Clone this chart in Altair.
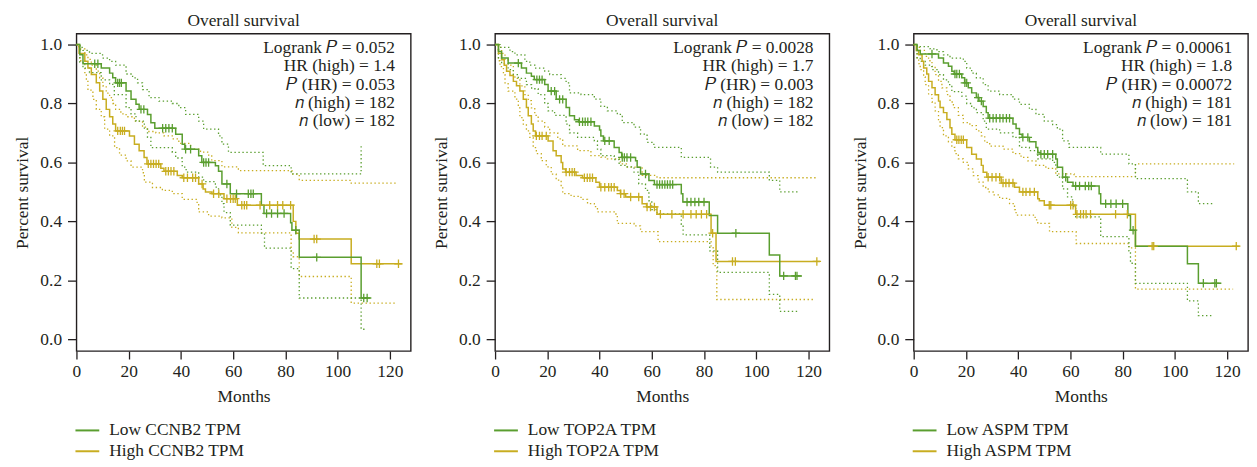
import altair as alt
import pandas as pd

FONT = "Liberation Serif"
TEXT = "#231f20"
GREEN = "#5a9e2f"
YELLOW = "#c8ad20"
W, H = 337, 320
FS = 17.5

X_TICKS = [0, 20, 40, 60, 80, 100, 120]
Y_TICKS = [0.0, 0.2, 0.4, 0.6, 0.8, 1.0]

# ---------------- Panel 1: CCNB2 ----------------
ccnb2_labels = ["Low CCNB2 TPM", "High CCNB2 TPM"]
ccnb2_stats = ["Logrank \U0001D443 = 0.052", "HR (high) = 1.4", "\U0001D443 (HR) = 0.053",
               "\U0001D45B (high) = 182", "\U0001D45B (low) = 182"]
ccnb2_low = [(0, 1.0), (1.3, 0.965), (2.5, 0.935), (9.5, 0.92), (12.7, 0.903), (13.9, 0.887), (15, 0.87),
             (19, 0.842), (20.9, 0.814), (22.8, 0.797), (24, 0.78), (27.2, 0.763), (28.5, 0.735), (30, 0.716),
             (38, 0.696), (40.5, 0.662), (41.5, 0.645), (46.8, 0.623), (48, 0.6), (53.2, 0.589), (54.4, 0.57),
             (55.7, 0.527), (58.9, 0.494), (70.8, 0.455), (71.8, 0.427), (82, 0.395), (82.5, 0.37),
             (85.3, 0.278), (109, 0.14), (112.5, 0.14)]
ccnb2_low_up = [(0, 1.0), (1, 0.99), (2.5, 0.98), (5, 0.97), (10, 0.954), (12.7, 0.943), (15, 0.93), (19, 0.9),
                (21.5, 0.887), (23.4, 0.87), (25.3, 0.847), (27.8, 0.82), (31.6, 0.808), (36.7, 0.8),
                (39.2, 0.786), (41.8, 0.763), (46.8, 0.74), (48.7, 0.713), (54.4, 0.69), (55.7, 0.662),
                (58.2, 0.634), (71.5, 0.589), (82.2, 0.561), (109, 0.657), (109.6, 0.657)]
ccnb2_low_lo = [(0, 1.0), (1.3, 0.94), (2.5, 0.92), (5, 0.905), (9.5, 0.88), (12.7, 0.865), (14.5, 0.83),
                (19, 0.786), (20.9, 0.765), (22.8, 0.74), (26, 0.713), (27.2, 0.685), (28.5, 0.65),
                (36.7, 0.634), (38, 0.615), (40.5, 0.584), (42, 0.567), (46.8, 0.55), (48.7, 0.535),
                (53.2, 0.516), (54.4, 0.49), (55.7, 0.46), (56.5, 0.43), (58.9, 0.387), (70.8, 0.36),
                (72, 0.309), (82.2, 0.24), (85.3, 0.14), (109, 0.034), (111, 0.034)]
ccnb2_low_cens = [7.0, 8.2, 15.8, 16.5, 17.2, 24.7, 25.8, 33.0, 34.2, 35.4, 36.7, 41.8, 43.7, 48.7, 49.6,
                  50.6, 57.6, 61.3, 65.8, 66.8, 67.7, 72.8, 74.7, 77.0, 79.5, 84.0, 92.0, 110.0, 111.3]
ccnb2_high = [(0, 1.0), (1, 0.97), (3.2, 0.943), (4.4, 0.92), (5.7, 0.898), (7.6, 0.87), (8.9, 0.842),
              (10.1, 0.814), (11.4, 0.78), (12.7, 0.755), (13.9, 0.73), (15, 0.707), (20.3, 0.69),
              (22.2, 0.662), (24, 0.64), (25.9, 0.617), (27, 0.595), (32.3, 0.58), (33.5, 0.57), (38.6, 0.556),
              (40.5, 0.548), (46.8, 0.527), (48.5, 0.51), (49.4, 0.5), (51.9, 0.494), (56.5, 0.477),
              (61.6, 0.455), (83, 0.4), (84, 0.36), (85.3, 0.34), (105.2, 0.256), (124.6, 0.256)]
ccnb2_high_up = [(0, 1.0), (1, 0.985), (3.2, 0.965), (4.4, 0.95), (5.7, 0.93), (7.6, 0.91), (8.9, 0.887),
                 (10.1, 0.86), (11.4, 0.835), (12.7, 0.82), (13.9, 0.8), (15, 0.78), (17, 0.765), (19, 0.755),
                 (22.2, 0.74), (25.3, 0.72), (27.2, 0.705), (30.4, 0.7), (33.5, 0.69), (36.7, 0.68),
                 (39.2, 0.665), (43.7, 0.645), (47.5, 0.635), (50.6, 0.625), (51.8, 0.606), (55.7, 0.585),
                 (62, 0.572), (82.5, 0.56), (85.3, 0.539), (105.2, 0.53), (122.7, 0.53)]
ccnb2_high_lo = [(0, 1.0), (1.3, 0.945), (3.2, 0.905), (3.8, 0.875), (4.4, 0.845), (6.3, 0.814), (7.6, 0.78),
                 (9.5, 0.755), (10.8, 0.713), (12.7, 0.69), (14.6, 0.65), (16.5, 0.625), (19, 0.605),
                 (20.9, 0.584), (25.3, 0.565), (26, 0.533), (29.1, 0.515), (32.9, 0.505), (36.7, 0.494),
                 (40.5, 0.475), (46.2, 0.46), (46.8, 0.432), (50.6, 0.418), (55.7, 0.412), (59.5, 0.38),
                 (62, 0.361), (82.2, 0.30), (83, 0.28), (85.3, 0.213), (105.2, 0.123), (122.7, 0.123)]
ccnb2_high_cens = [15.8, 16.8, 17.6, 18.4, 27.5, 28.5, 29.5, 30.5, 31.5, 34.2, 35.2, 36.2, 37.3, 41.1, 42.5,
                   44.5, 45.6, 48.1, 52.5, 54.5, 57.6, 59.0, 60.0, 60.8, 63.3, 64.3, 65.2, 70.3, 74.0, 77.0,
                   79.0, 82.0, 91.0, 92.0, 115.0, 116.0, 123.3]

# ---------------- Panel 2: TOP2A ----------------
top2a_labels = ["Low TOP2A TPM", "High TOP2A TPM"]
top2a_stats = ["Logrank \U0001D443 = 0.0028", "HR (high) = 1.7", "\U0001D443 (HR) = 0.003",
               "\U0001D45B (high) = 182", "\U0001D45B (low) = 182"]
top2a_low = [(0, 1.0), (1.3, 0.976), (2.5, 0.954), (5, 0.937), (10.1, 0.92), (12, 0.903), (13.9, 0.892),
             (15, 0.881), (19, 0.864), (20.3, 0.842), (23.4, 0.814), (27.2, 0.786), (28.5, 0.758),
             (30.4, 0.745), (32, 0.738), (38, 0.724), (40, 0.71), (40.5, 0.69), (41.5, 0.673), (45.6, 0.651),
             (47.5, 0.634), (48.5, 0.617), (53.8, 0.606), (54.4, 0.584), (55.7, 0.561), (58.9, 0.539),
             (61, 0.525), (71.3, 0.494), (71.9, 0.466), (82, 0.42), (85.2, 0.36), (105, 0.286), (109, 0.215),
             (117.5, 0.215)]
top2a_low_up = [(0, 1.0), (1.9, 0.99), (5.7, 0.976), (7.6, 0.965), (11.4, 0.943), (13.3, 0.93), (15.2, 0.92),
                (19, 0.91), (20.9, 0.898), (25.3, 0.885), (27.2, 0.87), (28.5, 0.836), (32.9, 0.83),
                (38, 0.815), (40.5, 0.79), (43, 0.775), (46.8, 0.763), (48.7, 0.735), (53.2, 0.72),
                (55.7, 0.696), (58.2, 0.668), (60.8, 0.651), (71.3, 0.617), (82.5, 0.584), (85.2, 0.567),
                (105, 0.539), (109, 0.5), (116, 0.5)]
top2a_low_lo = [(0, 1.0), (1.3, 0.955), (2.5, 0.935), (5, 0.915), (7, 0.898), (8.9, 0.885), (12, 0.864),
                (14, 0.85), (16.5, 0.83), (19, 0.8), (20.3, 0.775), (22.8, 0.76), (27.2, 0.73), (28.5, 0.7),
                (31.6, 0.685), (38, 0.673), (39.2, 0.645), (40.5, 0.623), (45.6, 0.61), (47.5, 0.59),
                (50.6, 0.585), (53.2, 0.567), (55, 0.527), (57.6, 0.505), (58.9, 0.47), (60, 0.44),
                (62, 0.425), (71.3, 0.39), (72, 0.354), (82.2, 0.3), (85.2, 0.227), (105, 0.152),
                (109, 0.095), (116, 0.095)]
top2a_low_cens = [8.9, 16.0, 17.0, 18.0, 21.5, 22.8, 24.7, 25.9, 32.3, 33.5, 34.5, 35.5, 36.7, 42.0, 43.7,
                  48.7, 49.5, 50.5, 51.9, 57.6, 62.0, 63.0, 64.0, 65.0, 66.0, 67.0, 68.0, 73.5, 75.0, 76.5,
                  78.0, 80.0, 92.2, 110.5, 115.0, 115.6]
top2a_high = [(0, 1.0), (1.3, 0.97), (2.5, 0.948), (3.5, 0.93), (4.4, 0.909), (5.7, 0.895), (7, 0.875),
              (8.2, 0.86), (9.5, 0.842), (10.8, 0.814), (12, 0.786), (12.7, 0.758), (13.9, 0.73), (14.6, 0.707),
              (15.5, 0.69), (20.3, 0.673), (22.2, 0.64), (23.4, 0.623), (25.3, 0.6), (25.9, 0.578), (27, 0.567),
              (31, 0.556), (33.5, 0.548), (38.6, 0.533), (40, 0.516), (46.8, 0.505), (48, 0.494), (50, 0.483),
              (56.3, 0.46), (58, 0.449), (62, 0.424), (82.7, 0.36), (84.6, 0.264), (124.4, 0.264)]
top2a_high_up = [(0, 1.0), (1.3, 0.99), (2.5, 0.97), (3.8, 0.95), (5, 0.93), (7, 0.898), (7.6, 0.885),
                 (9.5, 0.86), (11.4, 0.83), (12.7, 0.81), (13.9, 0.785), (15.2, 0.76), (16.5, 0.74), (19, 0.72),
                 (20.9, 0.7), (24, 0.68), (25.9, 0.656), (31.6, 0.64), (36.7, 0.623), (40.5, 0.618),
                 (43, 0.612), (48, 0.595), (50.6, 0.584), (56.3, 0.556), (62, 0.548), (123.5, 0.548)]
top2a_high_lo = [(0, 1.0), (1.3, 0.945), (1.9, 0.925), (3.2, 0.898), (3.8, 0.87), (5, 0.842), (7.6, 0.815),
                 (8.9, 0.785), (9.5, 0.752), (10.8, 0.73), (12, 0.707), (13.3, 0.685), (14.6, 0.65),
                 (15.8, 0.63), (17.7, 0.606), (19.6, 0.585), (21.5, 0.56), (23.4, 0.54), (25.3, 0.516),
                 (25.9, 0.494), (29.1, 0.485), (32.9, 0.475), (35.4, 0.46), (38, 0.45), (39.2, 0.432),
                 (45.6, 0.425), (46.8, 0.393), (53.2, 0.385), (55.7, 0.365), (62.4, 0.331), (82.7, 0.314),
                 (83.5, 0.25), (84.9, 0.135), (122.5, 0.135)]
top2a_high_cens = [15.8, 17.0, 18.0, 19.6, 27.2, 28.5, 29.5, 30.4, 34.2, 35.3, 36.3, 37.3, 40.5, 42.0, 43.5,
                   44.5, 45.6, 48.1, 49.4, 51.9, 55.0, 58.2, 59.5, 61.0, 63.3, 67.7, 72.0, 75.0, 77.0, 79.0,
                   81.0, 83.3, 90.9, 92.0, 123.2]

# ---------------- Panel 3: ASPM ----------------
aspm_labels = ["Low ASPM TPM", "High ASPM TPM"]
aspm_stats = ["Logrank \U0001D443 = 0.00061", "HR (high) = 1.8", "\U0001D443 (HR) = 0.00072",
              "\U0001D45B (high) = 181", "\U0001D45B (low) = 181"]
aspm_low = [(0, 1.0), (1.3, 0.98), (2.5, 0.968), (9.5, 0.954), (11.4, 0.937), (13.3, 0.926), (14.6, 0.909),
            (15.5, 0.9), (18.4, 0.887), (19.5, 0.87), (20.9, 0.853), (22.2, 0.836), (24, 0.82), (25, 0.808),
            (26.6, 0.79), (27.8, 0.769), (28.5, 0.75), (38, 0.73), (39.2, 0.715), (40.5, 0.696), (41.5, 0.685),
            (44.3, 0.67), (46.8, 0.651), (47.5, 0.634), (48.5, 0.628), (54.4, 0.612), (55, 0.584), (57, 0.55),
            (58.9, 0.533), (61, 0.52), (71, 0.494), (71.6, 0.46), (82, 0.42), (83, 0.37), (84.9, 0.316),
            (104.8, 0.256), (109, 0.19), (117.8, 0.19)]
aspm_low_up = [(0, 1.0), (1.3, 0.993), (6.3, 0.985), (8.9, 0.976), (11.4, 0.965), (13.9, 0.954), (19, 0.943),
               (20.3, 0.92), (22.2, 0.903), (24, 0.887), (26.6, 0.864), (28.5, 0.842), (32.9, 0.83),
               (38, 0.815), (40.5, 0.797), (44.3, 0.78), (46.8, 0.763), (50, 0.74), (53.2, 0.728), (55, 0.713),
               (57, 0.673), (59.5, 0.651), (71.6, 0.628), (82.4, 0.595), (84.9, 0.545), (104.8, 0.5),
               (109, 0.46), (114.5, 0.46)]
aspm_low_lo = [(0, 1.0), (1.3, 0.955), (2.5, 0.943), (4.4, 0.93), (7, 0.915), (9.5, 0.898), (11.4, 0.88),
               (13.3, 0.864), (14.6, 0.84), (18.4, 0.825), (20.3, 0.8), (22.2, 0.785), (24, 0.769),
               (26.6, 0.74), (27.8, 0.713), (32.9, 0.7), (38, 0.685), (40.5, 0.651), (44.3, 0.64),
               (47.5, 0.612), (53.2, 0.6), (54.4, 0.584), (55, 0.55), (57, 0.51), (58.9, 0.483), (60.8, 0.45),
               (62, 0.415), (71.6, 0.348), (82.4, 0.3), (83, 0.258), (84.9, 0.19), (104.8, 0.13), (109, 0.08),
               (114.5, 0.08)]
aspm_low_cens = [7.0, 15.8, 16.5, 17.5, 19.6, 20.3, 24.7, 25.9, 29.1, 30.4, 31.6, 33.0, 34.2, 35.5, 36.7,
                 41.8, 43.7, 48.7, 50.0, 51.3, 53.2, 58.2, 62.0, 63.5, 65.7, 67.0, 68.0, 73.5, 75.5, 77.5,
                 80.0, 84.0, 110.9, 115.3, 115.9]
aspm_high = [(0, 1.0), (1, 0.98), (1.9, 0.965), (3.2, 0.943), (3.8, 0.92), (5, 0.9), (5.7, 0.875), (7, 0.853),
             (8.2, 0.83), (9.5, 0.808), (10.1, 0.786), (11.4, 0.769), (12.7, 0.746), (13.9, 0.718),
             (14.6, 0.696), (15.8, 0.677), (20.3, 0.651), (22.2, 0.628), (24, 0.612), (25.9, 0.59),
             (26.6, 0.567), (28, 0.55), (33.5, 0.53), (38.6, 0.516), (40.5, 0.5), (47.5, 0.477), (48.1, 0.47),
             (50, 0.455), (62, 0.424), (84.9, 0.316), (124.8, 0.316)]
aspm_high_up = [(0, 1.0), (1.3, 0.99), (2.5, 0.98), (4.4, 0.96), (5.7, 0.945), (7, 0.926), (8.2, 0.898),
                (9.5, 0.875), (10.8, 0.853), (12.7, 0.83), (13.9, 0.805), (15.2, 0.786), (17.1, 0.76),
                (19, 0.735), (21.5, 0.725), (24, 0.707), (25.9, 0.69), (27.2, 0.668), (29.1, 0.655),
                (34.2, 0.645), (38, 0.63), (41.1, 0.617), (43.7, 0.605), (46.8, 0.59), (50.6, 0.58),
                (54.4, 0.561), (61.4, 0.552), (84.9, 0.595), (122.7, 0.595)]
aspm_high_lo = [(0, 1.0), (1.3, 0.95), (1.9, 0.935), (2.5, 0.915), (3.8, 0.89), (4.4, 0.864), (5.7, 0.83),
                (7, 0.805), (8.2, 0.775), (9.5, 0.745), (10.1, 0.718), (11.4, 0.69), (13.3, 0.67),
                (14.6, 0.651), (15.8, 0.63), (17.1, 0.612), (19, 0.6), (20.9, 0.578), (22.8, 0.555),
                (24.7, 0.533), (26.6, 0.515), (28.5, 0.5), (30.4, 0.49), (32.9, 0.478), (36.7, 0.46),
                (38.6, 0.44), (39.2, 0.421), (46.5, 0.405), (47.5, 0.393), (52, 0.365), (62.2, 0.325),
                (82.4, 0.31), (84.9, 0.17), (122.3, 0.17)]
aspm_high_cens = [16.5, 17.3, 18.2, 19.0, 28.5, 30.0, 31.5, 32.9, 34.2, 35.3, 36.5, 38.0, 41.8, 43.0, 44.5,
                  46.2, 51.9, 52.5, 60.1, 61.0, 62.5, 63.9, 65.0, 66.0, 67.7, 77.3, 81.8, 91.3, 91.9, 123.5]


def surv_at(curve, t):
    s = curve[0][1]
    for tt, ss in curve:
        if tt <= t:
            s = ss
    return s


def frame(curves):
    rows = []
    for key, series, pts in curves:
        for i, (t, s) in enumerate(pts):
            rows.append({"t": t, "s": s, "series": series, "key": key, "i": i})
    return pd.DataFrame(rows)


def xenc():
    return alt.X("t:Q", scale=alt.Scale(domain=[0, 128], nice=False, zero=False),
                 axis=alt.Axis(values=X_TICKS, title="Months", domain=False, grid=False,
                               tickSize=8, tickWidth=1.3, tickColor=TEXT, labelFlush=False,
                               labelOverlap=False, labelPadding=4, titlePadding=7))


def yenc():
    return alt.Y("s:Q", scale=alt.Scale(domain=[-0.04, 1.037], nice=False, zero=False),
                 axis=alt.Axis(values=Y_TICKS, format=".1f", title="Percent survival", domain=False,
                               grid=False, tickSize=9, tickWidth=1.3, tickColor=TEXT,
                               labelPadding=6, titlePadding=7, minExtent=38, maxExtent=38))


def color():
    return alt.Color("series:N", scale=alt.Scale(domain=["low", "high"], range=[GREEN, YELLOW]), legend=None)


def panel(labels, stats, low, low_up, low_lo, low_cens, high, high_up, high_lo, high_cens):
    ci = frame([("hu", "high", high_up), ("hl", "high", high_lo), ("lu", "low", low_up), ("ll", "low", low_lo)])
    solid = frame([("h", "high", high), ("l", "low", low)])
    cens = pd.DataFrame(
        [{"t": t, "s": surv_at(high, t), "series": "high"} for t in high_cens]
        + [{"t": t, "s": surv_at(low, t), "series": "low"} for t in low_cens])

    ci_layer = alt.Chart(ci).mark_line(interpolate="step-after", strokeDash=[1.4, 2.6], strokeWidth=1.3).encode(
        x=xenc(), y=yenc(), color=color(), detail="key:N", order="i:Q")
    solid_layer = alt.Chart(solid).mark_line(interpolate="step-after", strokeWidth=1.5).encode(
        x=xenc(), y=yenc(), color=color(), detail="key:N", order="i:Q")
    cens_layer = alt.Chart(cens).mark_point(shape="M-1,0L1,0M0,-1L0,1", size=72, filled=False,
                                            strokeWidth=1.3, opacity=1).encode(
        x=xenc(), y=yenc(), color=color())

    layers = [ci_layer, solid_layer, cens_layer]
    for i, line in enumerate(stats):
        layers.append(alt.Chart(pd.DataFrame({"txt": [line]})).mark_text(
            align="right", baseline="alphabetic", font=FONT, fontSize=FS, color=TEXT).encode(
            text="txt:N", x=alt.value(W - 16), y=alt.value(19.7 + 18.4 * i)))
    for i, (lab, col) in enumerate(zip(labels, [GREEN, YELLOW])):
        yy = 400 + 21 * i
        layers.append(alt.Chart(pd.DataFrame({"txt": [lab]})).mark_rule(strokeWidth=2, color=col).encode(
            x=alt.value(-1), x2=alt.value(23), y=alt.value(yy)))
        layers.append(alt.Chart(pd.DataFrame({"txt": [lab]})).mark_text(
            align="left", baseline="middle", font=FONT, fontSize=FS, color=TEXT).encode(
            text="txt:N", x=alt.value(33), y=alt.value(yy)))

    return alt.layer(*layers).properties(
        width=W, height=H,
        title=alt.TitleParams("Overall survival", font=FONT, fontSize=FS, fontWeight="normal",
                              color=TEXT, anchor="middle", offset=4))


p1 = panel(ccnb2_labels, ccnb2_stats, ccnb2_low, ccnb2_low_up, ccnb2_low_lo, ccnb2_low_cens,
           ccnb2_high, ccnb2_high_up, ccnb2_high_lo, ccnb2_high_cens)
p2 = panel(top2a_labels, top2a_stats, top2a_low, top2a_low_up, top2a_low_lo, top2a_low_cens,
           top2a_high, top2a_high_up, top2a_high_lo, top2a_high_cens)
p3 = panel(aspm_labels, aspm_stats, aspm_low, aspm_low_up, aspm_low_lo, aspm_low_cens,
           aspm_high, aspm_high_up, aspm_high_lo, aspm_high_cens)

chart = alt.hconcat(p1, p2, p3, spacing=20).properties(
    padding={"left": 5, "top": 1, "right": 0, "bottom": 0}
).configure_view(stroke=TEXT, strokeWidth=1.4).configure_axis(
    labelFont=FONT, titleFont=FONT, labelFontSize=FS, titleFontSize=FS, titleFontWeight="normal",
    labelColor=TEXT, titleColor=TEXT
)

chart.save("out.html", embed_options={"renderer": "svg", "actions": False})
